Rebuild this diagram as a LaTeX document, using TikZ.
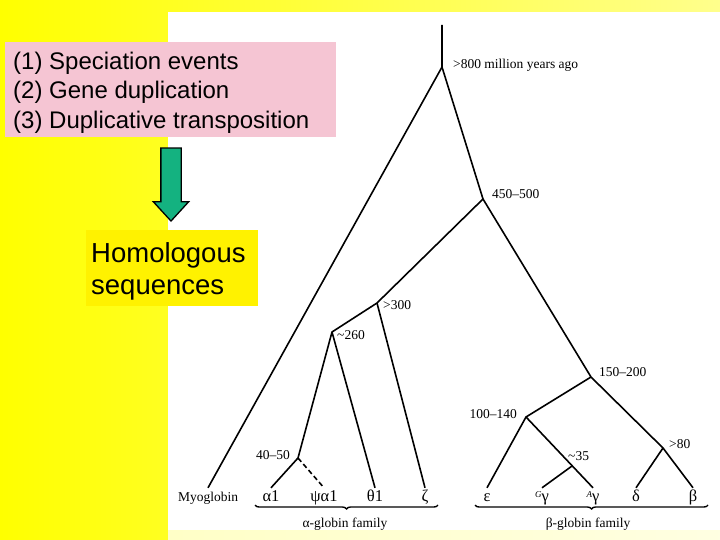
\documentclass[tikz,border=0pt]{standalone}
\usepackage{fontspec}
\setmainfont{Liberation Serif}
\newfontfamily\slidefont{Liberation Sans}
\usetikzlibrary{shapes.arrows,decorations.pathreplacing,calc}
\definecolor{pinkbg}{RGB}{245,197,211}
\definecolor{arrowgreen}{RGB}{20,178,128}
\definecolor{paleyellow}{RGB}{255,255,140}

\begin{document}
\begin{tikzpicture}[x=1pt,y=-1pt,
		branch/.style={line width=1.6pt, line join=round},
		age/.style={font=\fontsize{13.5}{15}\selectfont, inner sep=1pt},
		leaf/.style={font=\fontsize{13.5}{15}\selectfont, text height=9pt, text depth=3pt, inner xsep=1pt, inner ysep=4pt},
		greek/.style={leaf, font=\fontsize{16.5}{18}\selectfont},
		family/.style={decorate, decoration={brace, mirror, amplitude=4pt}, line width=1.4pt}]
				\useasboundingbox (0,0) rectangle (720,540);
				\shade[left color=yellow, right color=paleyellow] (0,0) rectangle (720,540);
				\fill[white] (168,12) rectangle (720,530);
				\fill[white, opacity=0.75] (168,530) rectangle (720,540);
				\node[fill=pinkbg, anchor=north west, minimum width=331pt, minimum height=95pt, inner sep=0pt] (events) at (5,42) {};
				\node[anchor=west, inner sep=0pt, align=left, font=\slidefont\fontsize{24}{29.5}\selectfont] (eventlist) at ($(events.west)+(8,3)$) {(1) Speciation events\\(2) Gene duplication\\(3) Duplicative transposition};
				\node[fill=yellow, anchor=north west, minimum width=172pt, minimum height=76pt, inner sep=0pt] (homol) at (86,230) {};
				\node[anchor=west, inner sep=0pt, align=left, font=\slidefont\fontsize{27.5}{32}\selectfont] (homoltext) at ($(homol.west)+(5,3)$) {Homologous\\sequences};
				\node[single arrow, draw=black, line width=1.3pt, fill=arrowgreen, rotate=-90, minimum height=73pt, inner sep=9.5pt, single arrow head extend=7.5pt, single arrow tip angle=85] (arrow) at (171,179) {};
				\coordinate (top) at (442,25);
				\coordinate (n800) at (442,67);
				\coordinate (n450) at (483,199);
				\coordinate (n300) at (377,303);
				\coordinate (n260) at (332,332);
				\coordinate (n40) at (298,458);
				\coordinate (n150) at (591,377);
				\coordinate (n100) at (526,417);
				\coordinate (n80) at (663,448);
				\node[leaf] (myo) at (208,498) {Myoglobin};
				\node[greek] (a1) at (271,498) {α1};
				\node[greek] (psia1) at (324,498) {ψα1};
				\node[greek] (th1) at (375,498) {θ1};
				\node[greek] (zeta) at (425,498) {ζ};
				\node[greek] (eps) at (487,498) {ε};
				\node[greek] (ggam) at (542,498) {\raisebox{.45ex}{\fontsize{9}{10}\selectfont\itshape G}γ};
				\node[greek] (agam) at (593,498) {\raisebox{.45ex}{\fontsize{9}{10}\selectfont\itshape A}γ};
				\node[greek] (delta) at (636,498) {δ};
				\node[greek] (beta) at (693,498) {β};
				\coordinate (n35) at ($(n100)!0.69!(agam.north)$);
				\draw[branch] (top) -- (n800) -- (myo.north);
				\draw[branch] (n800) -- (n450) -- (n300) -- (n260) -- (n40) -- (a1.north);
				\draw[branch, dash pattern=on 5pt off 3pt] (n40) -- (psia1.north);
				\draw[branch] (n260) -- (th1.north);
				\draw[branch] (n300) -- (zeta.north);
				\draw[branch] (n450) -- (n150) -- (n100) -- (eps.north);
				\draw[branch] (n100) -- (n35) -- (agam.north);
				\draw[branch] (n35) -- (ggam.north);
				\draw[branch] (n150) -- (n80) -- (beta.north);
				\draw[branch] (n80) -- (delta.north);
				\node[age, anchor=west] (l800) at (452,65) {>800 million years ago};
				\node[age, anchor=west] (l450) at (491,194) {450–500};
				\node[age, anchor=west] (l300) at (382,305) {>300};
				\node[age, anchor=west] (l260) at (336,335) {\textasciitilde260};
				\node[age, anchor=west] (l150) at (598,372) {150–200};
				\node[age, anchor=east] (l100) at (518,414) {100–140};
				\node[age, anchor=west] (l35) at (567,456) {\textasciitilde35};
				\node[age, anchor=west] (l80) at (668,444) {>80};
				\node[age, anchor=east] (l40) at (291,455) {40–50};
				\draw[family] (255,505) -- (438,505);
				\draw[family] (475,505) -- (708,505);
				\node[leaf] (alfam) at (345,524) {α-globin family};
				\node[leaf] (befam) at (588,524) {β-globin family};
			\end{tikzpicture}
\end{document}
